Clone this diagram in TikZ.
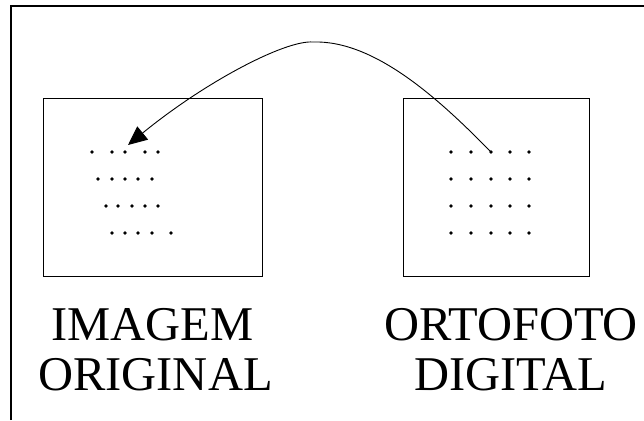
\documentclass[tikz,border=0pt]{standalone}
\usepackage{fontspec}
\setmainfont{Liberation Serif}
\newfontfamily\capfont{Liberation Serif}
\usetikzlibrary{arrows.meta,positioning}

\tikzset{
  photo/.style={draw, line width=0.9pt, inner sep=0pt},
  pix/.style={fill=black},
  caption/.style={anchor=base, inner sep=0pt, font=\capfont\fontsize{48.5}{50}\selectfont},
}

\begin{document}
\begin{tikzpicture}[x=1pt, y=-1pt, >={Triangle[length=19pt,width=17pt]}]
    \useasboundingbox (0,0) rectangle (644,420);

    % Frame (only top and left edges are shown)
    \draw[line width=1.8pt] (11,420) -- (11,6) -- (644,6);

    % The two images
    \node[photo, minimum width=219pt, minimum height=178pt] (orig) at (152.5,187) {};
    \node[photo, minimum width=186pt, minimum height=178pt] (orto) at (496,187) {};

    % Pixels of the original image (irregular)
    \foreach \x/\y in {92/152, 112/152, 125/152, 145/152, 158/152,
                       98/179, 112/179, 125/179, 138/179, 152/179,
                       106/206, 118/206, 132/206, 145/206, 158/206,
                       112/233, 125/233, 138/233, 152/233, 171/233}
        \fill[pix] (\x,\y) circle (1.8pt);

    % Pixels of the orthophoto (regular grid)
    \foreach \y in {152, 179, 206, 233}
        \foreach \x in {451, 471, 491, 510, 529}
            \fill[pix] (\x,\y) circle (1.8pt);

    \coordinate (src) at (491,152);
    \coordinate (dst) at (128,145);

    % Back projection
    \draw[->, line width=0.9pt] (src) .. controls (440,100) and (375,40) .. (313,42)
        .. controls (285,40) and (205,82) .. (dst);

    % Captions
    \node[caption] (imagem) at (152.5,340) {IMAGEM};
    \node[caption] (original) at (155.5,390) {ORIGINAL};
    \node[caption] (ortofoto) at (511,340) {ORTOFOTO};
    \node[caption] (digital) at (511,390) {DIGITAL};
\end{tikzpicture}
\end{document}
